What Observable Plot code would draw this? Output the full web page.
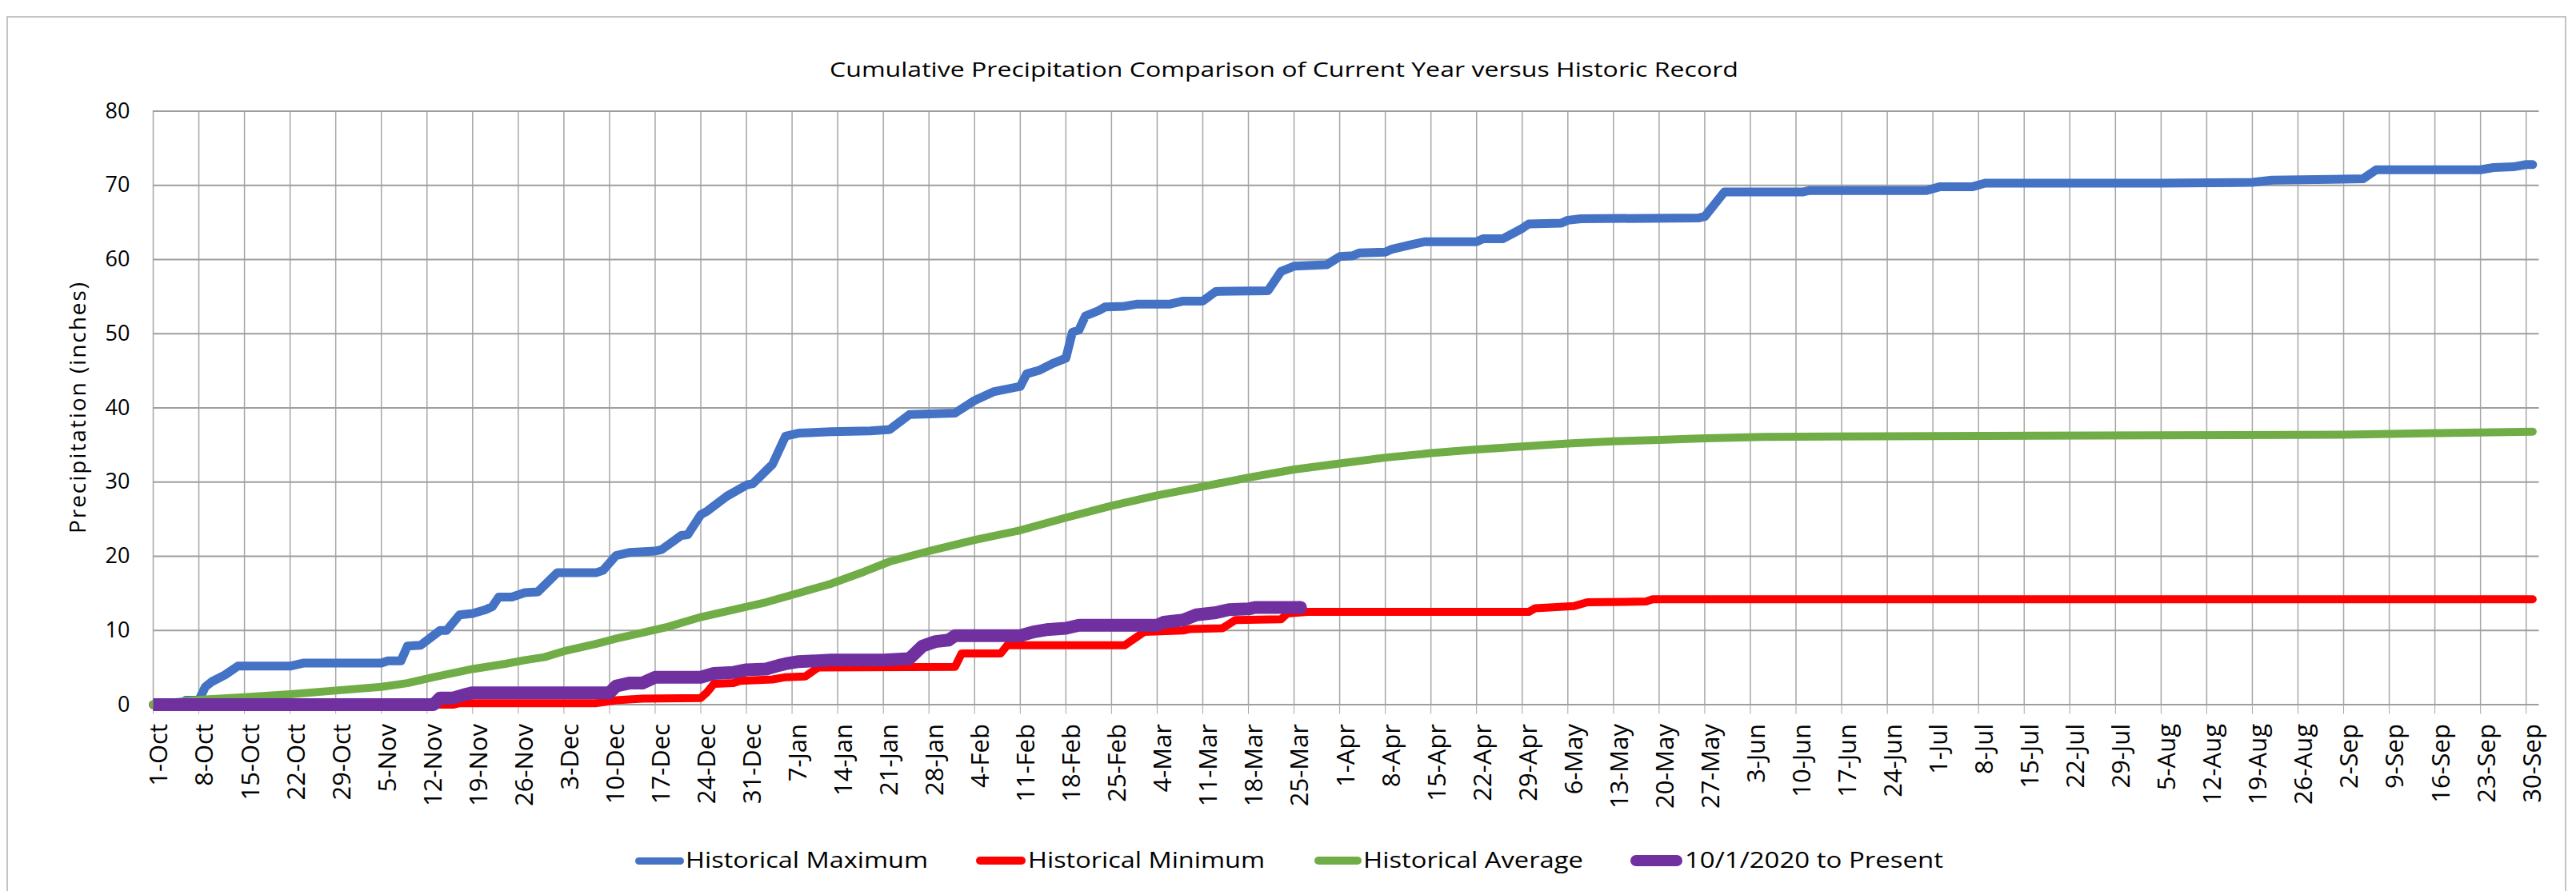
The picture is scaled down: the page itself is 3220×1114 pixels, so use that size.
<!DOCTYPE html>
<html>
<head>
<meta charset="utf-8">
<script src="https://cdn.jsdelivr.net/npm/d3@7"></script>
<script src="https://cdn.jsdelivr.net/npm/@observablehq/plot@0.6"></script>
<style>
html, body { margin: 0; padding: 0; background: #fff; }
#chart { position: relative; width: 3220px; height: 1114px; overflow: hidden; background: #fff; font-family: "Open Sans", sans-serif; color: #000; }
#frame { position: absolute; left: 8px; top: 20px; width: 3200px; height: 1200px; border: 2.5px solid #c4c4c4; box-sizing: border-box; }
#title { position: absolute; left: 1037px; top: 73px; font-size: 26px; line-height: 26px; white-space: nowrap; transform-origin: 0 0; }
#plot { position: absolute; left: 0; top: 110px; }
.lg-sw { position: absolute; }
.lg-tx { position: absolute; font-size: 27px; line-height: 27px; white-space: nowrap; transform-origin: 0 0; }
</style>
</head>
<body>
<div id="chart">
  <div id="frame"></div>
  <div id="title"></div>
  <div id="plot"></div>
  <div id="legend"></div>
</div>
<script>
// ---------------- data (day index from 1-Oct, cumulative inches) ----------------
const titleText = "Cumulative Precipitation Comparison of Current Year versus Historic Record";
const yTitle = "Precipitation (inches)";

const xTickLabels = ["1-Oct","8-Oct","15-Oct","22-Oct","29-Oct","5-Nov","12-Nov","19-Nov","26-Nov","3-Dec","10-Dec","17-Dec","24-Dec","31-Dec","7-Jan","14-Jan","21-Jan","28-Jan","4-Feb","11-Feb","18-Feb","25-Feb","4-Mar","11-Mar","18-Mar","25-Mar","1-Apr","8-Apr","15-Apr","22-Apr","29-Apr","6-May","13-May","20-May","27-May","3-Jun","10-Jun","17-Jun","24-Jun","1-Jul","8-Jul","15-Jul","22-Jul","29-Jul","5-Aug","12-Aug","19-Aug","26-Aug","2-Sep","9-Sep","16-Sep","23-Sep","30-Sep"];
const yTicks = [0, 10, 20, 30, 40, 50, 60, 70, 80];

const seriesNames = ["Historical Maximum", "Historical Minimum", "Historical Average", "10/1/2020 to Present"];

const histMax = [[0,0],[4,0],[5,0.6],[7,0.6],[8,2.4],[9,3.1],[11,4.0],[13,5.2],[21,5.2],[23,5.6],[35,5.6],[36,5.9],[38,5.9],[39,7.9],[41,8.0],[44,10.0],[45,10.0],[47,12.1],[49,12.3],[51,12.8],[52,13.2],[53,14.5],[55,14.5],[57,15.1],[59,15.2],[62,17.8],[68,17.8],[69,18.1],[71,20.1],[73,20.5],[77,20.7],[78,20.9],[81,22.8],[82,22.9],[84,25.6],[85,26.1],[88,28.1],[91,29.6],[92,29.8],[95,32.4],[97,36.2],[99,36.6],[104,36.8],[110,36.9],[113,37.1],[116,39.1],[123,39.3],[126,41.0],[129,42.2],[133,42.9],[134,44.6],[136,45.1],[138,46.0],[140,46.7],[141,50.2],[142,50.5],[143,52.4],[145,53.1],[146,53.6],[149,53.7],[151,54.0],[156,54.0],[158,54.4],[161,54.4],[163,55.7],[171,55.8],[173,58.4],[175,59.1],[180,59.3],[182,60.4],[184,60.5],[185,60.9],[189,61.0],[190,61.4],[193,62.0],[195,62.4],[203,62.4],[204,62.8],[207,62.8],[210,64.2],[211,64.8],[216,64.9],[217,65.3],[219,65.5],[237,65.6],[238,65.8],[241,69.1],[253,69.1],[254,69.3],[272,69.3],[274,69.8],[279,69.8],[281,70.3],[308,70.3],[322,70.4],[325,70.7],[334,70.8],[339,70.9],[341,72.1],[357,72.1],[359,72.4],[362,72.5],[364,72.8],[365,72.8]];

const histMin = [[0,0],[46,0],[47,0.2],[68,0.2],[71,0.6],[75,0.8],[84,0.9],[85,1.7],[86,2.8],[89,2.9],[90,3.2],[95,3.4],[97,3.7],[100,3.8],[102,5.0],[123,5.1],[124,6.9],[130,6.9],[131,8.0],[149,8.0],[152,9.8],[158,10.0],[159,10.2],[164,10.3],[166,11.4],[173,11.5],[174,12.3],[177,12.5],[211,12.5],[212,13.0],[218,13.3],[220,13.8],[229,13.9],[230,14.2],[365,14.2]];

const histAvg = [[0,0.05],[8,0.7],[14,1.0],[21,1.4],[28,1.9],[35,2.4],[39,2.9],[43,3.7],[49,4.8],[54,5.5],[57,6.0],[60,6.4],[63,7.2],[68,8.2],[71,8.9],[75,9.7],[79,10.5],[84,11.8],[89,12.8],[94,13.8],[98,14.8],[104,16.3],[109,17.9],[113,19.3],[119,20.7],[126,22.2],[133,23.5],[140,25.2],[147,26.8],[154,28.2],[161,29.4],[168,30.6],[175,31.7],[182,32.5],[189,33.3],[196,33.9],[203,34.4],[210,34.8],[217,35.2],[224,35.5],[231,35.7],[238,35.9],[247,36.1],[273,36.2],[308,36.3],[336,36.4],[350,36.6],[365,36.8]];

const current = [[0,0],[43,0],[44,0.9],[46,0.9],[48,1.4],[49,1.6],[70,1.6],[71,2.5],[73,2.9],[75,2.9],[77,3.7],[84,3.7],[86,4.2],[89,4.35],[91,4.7],[94,4.8],[96,5.3],[97,5.5],[99,5.8],[104,6.0],[112,6.0],[116,6.2],[118,7.9],[120,8.5],[122,8.7],[123,9.3],[133,9.3],[135,9.8],[137,10.1],[140,10.3],[142,10.7],[154,10.7],[155,11.1],[158,11.4],[160,12.1],[163,12.4],[165,12.8],[168,12.9],[169,13.1],[176,13.1]];

// ---------------- styles ----------------
const colors = ["#4472C4", "#FF0000", "#70AD47", "#7030A0"];
const widths = [11, 10, 10, 16];
const seriesData = [histMax, histMin, histAvg, current];

const xTickDays = xTickLabels.map((_, i) => i * 7);
const labelByDay = new Map(xTickDays.map((d, i) => [d, xTickLabels[i]]));

// ---------------- plot ----------------
const lineMarks = seriesData.map((data, i) => Plot.line(data, {
  stroke: colors[i], strokeWidth: widths[i], strokeLinejoin: "round",
  strokeLinecap: i === 3 ? "butt" : "round"
}));

const plot = Plot.plot({
  width: 3220, height: 930,
  marginLeft: 191, marginRight: 46.5, marginTop: 28.5, marginBottom: 159.5,
  style: { fontFamily: "'Open Sans', sans-serif", fontSize: "31px", color: "#000", background: "transparent", overflow: "visible" },
  x: { type: "linear", domain: [0, 366] },
  y: { domain: [0, 80] },
  marks: [
    Plot.ruleX(xTickDays, { stroke: "#a6a6a6", strokeWidth: 1.5 }),
    Plot.ruleY(yTicks, { stroke: "#9e9e9e", strokeWidth: 2.2 }),
    Plot.axisX({ ticks: xTickDays, tickFormat: d => labelByDay.get(d), tickRotate: -90, tickSize: 12, tickPadding: 12, stroke: "#a6a6a6", fill: "#000", fontSize: 31, label: null }),
    Plot.axisY({ ticks: yTicks, tickSize: 0, tickPadding: 29, fill: "#000", fontSize: 27, label: null }),
    Plot.text([yTitle], { text: d => d, frameAnchor: "left", rotate: -90, dx: -93, fontSize: 28, textAnchor: "middle", lineAnchor: "middle", fill: "#000" }),
    ...lineMarks,
    Plot.dot(current.slice(-1), { r: widths[3] / 2, fill: colors[3], stroke: "none" })
  ]
});
document.getElementById("plot").appendChild(plot);

// shift rotated x tick labels slightly, stretch y title to reference length
const xl = plot.querySelector('[aria-label="x-axis tick label"]');
if (xl) xl.setAttribute("transform", ((xl.getAttribute("transform") || "") + " translate(8,0)").trim());
plot.querySelectorAll("text").forEach(t => {
  if (t.textContent === yTitle) { t.setAttribute("textLength", 314); t.setAttribute("lengthAdjust", "spacing"); }
});

// ---------------- title & legend ----------------
function fitWidth(el, target) {
  const w = el.getBoundingClientRect().width;
  if (w > 0) el.style.transform = `scaleX(${target / w})`;
}
const titleEl = document.getElementById("title");
titleEl.textContent = titleText;
fitWidth(titleEl, 1136);

const legendLayout = [
  { sx: 794, sw: 61, th: 9, tx: 857, tw: 303 },
  { sx: 1220, sw: 62, th: 10, tx: 1285, tw: 296 },
  { sx: 1643, sw: 59, th: 10, tx: 1704, tw: 275 },
  { sx: 2038, sw: 65, th: 14, tx: 2106, tw: 323 }
];
const legend = document.getElementById("legend");
seriesNames.forEach((name, i) => {
  const L = legendLayout[i];
  const sw = document.createElement("div");
  sw.className = "lg-sw";
  Object.assign(sw.style, { left: L.sx + "px", top: (1076 - L.th / 2) + "px", width: L.sw + "px", height: L.th + "px", background: colors[i], borderRadius: (L.th / 2) + "px" });
  legend.appendChild(sw);
  const tx = document.createElement("div");
  tx.className = "lg-tx";
  tx.textContent = name;
  Object.assign(tx.style, { left: L.tx + "px", top: "1061px" });
  legend.appendChild(tx);
  fitWidth(tx, L.tw);
});
</script>
</body>
</html>
